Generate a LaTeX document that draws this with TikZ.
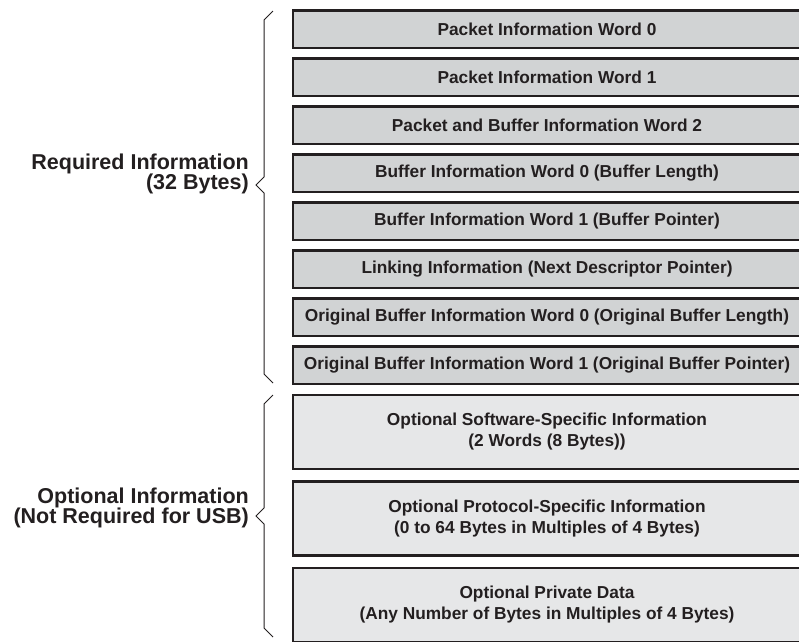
\documentclass[tikz,border=0pt]{standalone}
\usepackage{fontspec}
\setmainfont{Liberation Sans}
\definecolor{edge}{HTML}{231F20}
\definecolor{reqfill}{HTML}{D1D3D4}
\definecolor{optfill}{HTML}{E6E7E8}

\begin{document}
\begin{tikzpicture}[x = 1pt, y = -1pt,
    reqbox/.style = {draw = edge, line width = 2.5pt, fill = reqfill, text = edge,
        minimum width = 508pt, minimum height = 37.5pt, align = center,
        font = \fontsize{17.3}{21}\selectfont\bfseries},
    optbox/.style = {reqbox, fill = optfill, minimum height = 74pt},
    grouplabel/.style = {anchor = east, align = right, text = edge, inner sep = 0pt,
        font = \fontsize{21.5}{20.5}\selectfont\bfseries},
    brace/.style = {draw = edge, line width = 1pt}]
    \useasboundingbox (0,0) rectangle (799,641);
    \clip (0,0) rectangle (799,641);
    % required part of the descriptor
    \node[reqbox] (w0) at (547,29) {Packet Information Word 0};
    \node[reqbox] (w1) at (547,77) {Packet Information Word 1};
    \node[reqbox] (w2) at (547,125) {Packet and Buffer Information Word 2};
    \node[reqbox] (w3) at (547,173) {Buffer Information Word 0 (Buffer Length)};
    \node[reqbox] (w4) at (547,221) {Buffer Information Word 1 (Buffer Pointer)};
    \node[reqbox] (w5) at (547,269) {Linking Information (Next Descriptor Pointer)};
    \node[reqbox] (w6) at (547,317) {Original Buffer Information Word 0 (Original Buffer Length)};
    \node[reqbox] (w7) at (547,365) {Original Buffer Information Word 1 (Original Buffer Pointer)};
    % optional part
    \node[optbox] (sw) at (547,432) {Optional Software-Specific Information\\(2 Words (8 Bytes))};
    \node[optbox] (proto) at (547,518.5) {Optional Protocol-Specific Information\\(0 to 64 Bytes in Multiples of 4 Bytes)};
    \node[optbox] (priv) at (547,605) {Optional Private Data\\(Any Number of Bytes in Multiples of 4 Bytes)};
    % braces
    \draw[brace]
    (273,11) -- (264,20) -- (264,177) -- (256,185) -- (264,193) -- (264,374) -- (273,383);
    \draw[brace]
    (273,395) -- (264,404) -- (264,508) -- (256,516) -- (264,524) -- (264,628) -- (273,637);
    \node[grouplabel] (req) at (249,174) {Required Information\\(32 Bytes)};
    \node[grouplabel] (opt) at (249,508) {Optional Information\\(Not Required for USB)};
\end{tikzpicture}
\end{document}
